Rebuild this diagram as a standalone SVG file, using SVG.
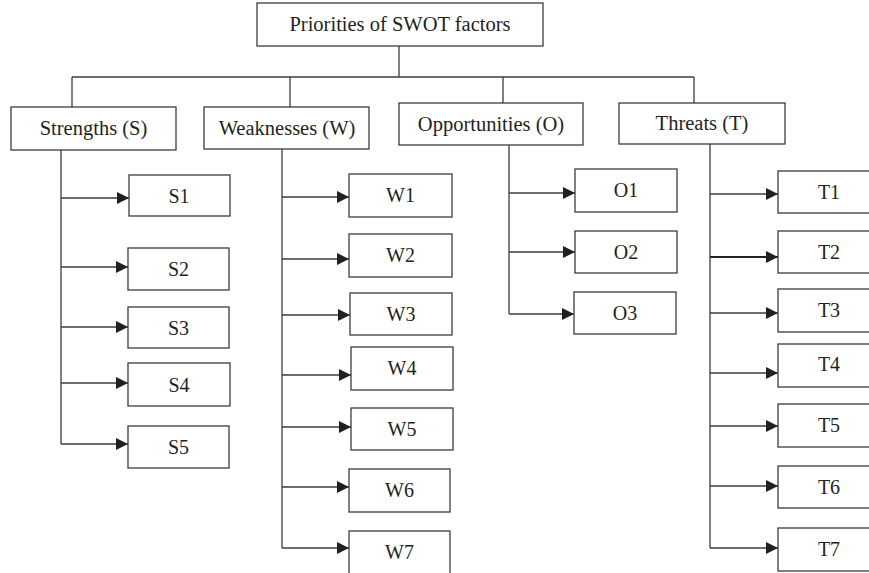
<svg xmlns="http://www.w3.org/2000/svg" width="869" height="573" viewBox="0 0 869 573">
<style>
  rect.b { fill: #ffffff; stroke: #3c3c3c; stroke-width: 1.3; }
  text { font-family: "Liberation Serif", "Times New Roman", serif; fill: #231f20; text-anchor: middle; }
  text.h { font-size: 20.5px; }
  text.i { font-size: 20px; }
  #connectors line { stroke: #3c3c3c; stroke-width: 1.3; fill: none; }
  #connectors line.a { marker-end: url(#arr); }
  #connectors line.thick { stroke-width: 2.2; stroke: #222; }
</style>
<defs>
  <marker id="arr" markerUnits="userSpaceOnUse" markerWidth="12" markerHeight="12" refX="12" refY="6" orient="auto">
    <path d="M0,0 L12,6 L0,12 z" fill="#231f20"/>
  </marker>
</defs>
<rect width="869" height="573" fill="#ffffff"/>

<g id="connectors">
  <line x1="399" y1="46" x2="399" y2="77"/>
  <line x1="72" y1="77" x2="694" y2="77"/>
  <line x1="72" y1="77" x2="72" y2="107"/>
  <line x1="290" y1="77" x2="290" y2="107"/>
  <line x1="503" y1="77" x2="503" y2="103"/>
  <line x1="694" y1="77" x2="694" y2="103"/>
  <!-- trunks -->
  <line x1="61" y1="150" x2="61" y2="444"/>
  <line x1="282" y1="149" x2="282" y2="548"/>
  <line x1="509" y1="145" x2="509" y2="314"/>
  <line x1="710" y1="144" x2="710" y2="548"/>
  <!-- S arrows -->
  <line class="a" x1="61" y1="198" x2="129" y2="198"/>
  <line class="a" x1="61" y1="267" x2="128" y2="267"/>
  <line class="a" x1="61" y1="327" x2="128" y2="327"/>
  <line class="a" x1="61" y1="383" x2="128" y2="383"/>
  <line class="a" x1="61" y1="444" x2="128" y2="444"/>
  <!-- W arrows -->
  <line class="a" x1="282" y1="197" x2="349" y2="197"/>
  <line class="a" x1="282" y1="259" x2="349" y2="259"/>
  <line class="a" x1="282" y1="315" x2="350" y2="315"/>
  <line class="a" x1="282" y1="375" x2="351" y2="375"/>
  <line class="a" x1="282" y1="427" x2="351" y2="427"/>
  <line class="a" x1="282" y1="487" x2="349" y2="487"/>
  <line class="a" x1="282" y1="548" x2="349" y2="548"/>
  <!-- O arrows -->
  <line class="a" x1="509" y1="193" x2="575" y2="193"/>
  <line class="a" x1="509" y1="252" x2="575" y2="252"/>
  <line class="a" x1="509" y1="314" x2="574" y2="314"/>
  <!-- T arrows -->
  <line class="a" x1="710" y1="194" x2="778" y2="194"/>
  <line class="a thick" x1="710" y1="257" x2="778" y2="257"/>
  <line class="a" x1="710" y1="313" x2="778" y2="313"/>
  <line class="a" x1="710" y1="373" x2="778" y2="373"/>
  <line class="a" x1="710" y1="426" x2="778" y2="426"/>
  <line class="a" x1="710" y1="486" x2="778" y2="486"/>
  <line class="a" x1="710" y1="548" x2="778" y2="548"/>
</g>

<g id="title"><rect class="b" x="257" y="3" width="286" height="43"/><text class="h" x="400" y="31">Priorities of SWOT factors</text></g>
<g id="strengths"><rect class="b" x="11" y="107" width="165" height="43"/><text class="h" x="93.5" y="135">Strengths (S)</text></g>
<g id="weaknesses"><rect class="b" x="204" y="107" width="165" height="42"/><text class="h" x="287" y="135">Weaknesses (W)</text></g>
<g id="opportunities"><rect class="b" x="399" y="103" width="184" height="42"/><text class="h" x="491" y="131">Opportunities (O)</text></g>
<g id="threats"><rect class="b" x="619" y="103" width="166" height="41"/><text class="h" x="702" y="130">Threats (T)</text></g>

<g id="S1"><rect class="b" x="129" y="175" width="101" height="41"/><text class="i" x="179" y="202.5">S1</text></g>
<g id="S2"><rect class="b" x="128" y="248" width="101" height="42"/><text class="i" x="178.5" y="276">S2</text></g>
<g id="S3"><rect class="b" x="128" y="307" width="101" height="41"/><text class="i" x="178.5" y="334.5">S3</text></g>
<g id="S4"><rect class="b" x="128" y="363" width="102" height="43"/><text class="i" x="179" y="391.5">S4</text></g>
<g id="S5"><rect class="b" x="128" y="426" width="101" height="42"/><text class="i" x="178.5" y="454">S5</text></g>

<g id="W1"><rect class="b" x="349" y="174" width="103" height="43"/><text class="i" x="400.5" y="202">W1</text></g>
<g id="W2"><rect class="b" x="349" y="234" width="103" height="43"/><text class="i" x="400.5" y="262">W2</text></g>
<g id="W3"><rect class="b" x="350" y="293" width="102" height="42"/><text class="i" x="401" y="321">W3</text></g>
<g id="W4"><rect class="b" x="351" y="347" width="102" height="43"/><text class="i" x="402" y="375">W4</text></g>
<g id="W5"><rect class="b" x="351" y="408" width="102" height="42"/><text class="i" x="402" y="436">W5</text></g>
<g id="W6"><rect class="b" x="349" y="469" width="101" height="43"/><text class="i" x="399.5" y="497">W6</text></g>
<g id="W7"><rect class="b" x="349" y="531" width="101" height="43"/><text class="i" x="399.5" y="559">W7</text></g>

<g id="O1"><rect class="b" x="575" y="169" width="102" height="43"/><text class="i" x="626" y="197">O1</text></g>
<g id="O2"><rect class="b" x="575" y="231" width="102" height="42"/><text class="i" x="626" y="258.5">O2</text></g>
<g id="O3"><rect class="b" x="574" y="292" width="102" height="42"/><text class="i" x="625" y="319.5">O3</text></g>

<g id="T1"><rect class="b" x="778" y="171" width="102" height="42"/><text class="i" x="829" y="198.5">T1</text></g>
<g id="T2"><rect class="b" x="778" y="231" width="102" height="42"/><text class="i" x="829" y="258.5">T2</text></g>
<g id="T3"><rect class="b" x="778" y="289" width="102" height="43"/><text class="i" x="829" y="317">T3</text></g>
<g id="T4"><rect class="b" x="778" y="344" width="102" height="43"/><text class="i" x="829" y="371">T4</text></g>
<g id="T5"><rect class="b" x="778" y="404" width="102" height="43"/><text class="i" x="829" y="432">T5</text></g>
<g id="T6"><rect class="b" x="778" y="466" width="102" height="42"/><text class="i" x="829" y="493.5">T6</text></g>
<g id="T7"><rect class="b" x="778" y="528" width="102" height="43"/><text class="i" x="829" y="556">T7</text></g>
</svg>
